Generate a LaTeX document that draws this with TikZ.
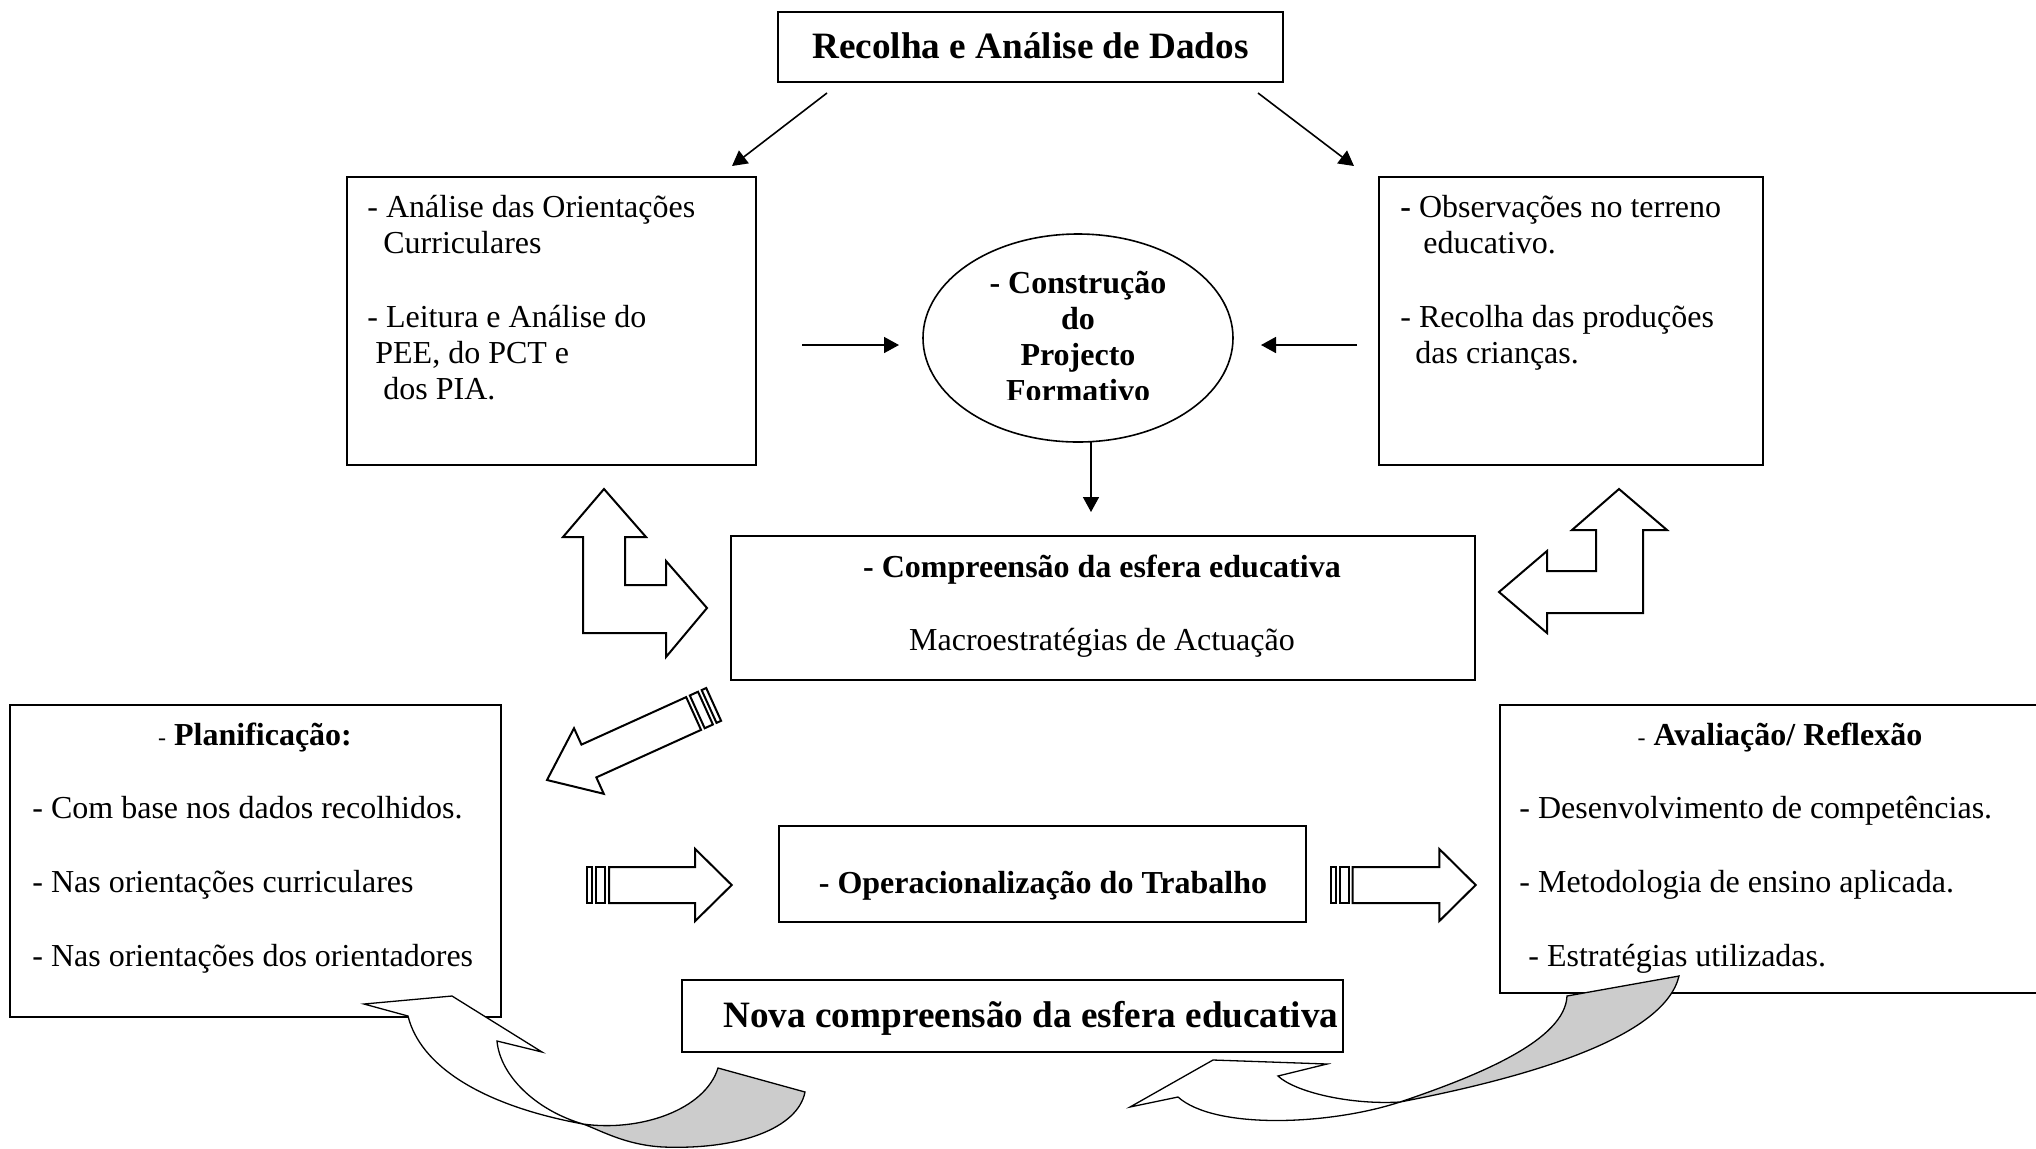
\documentclass[tikz,border=0pt]{standalone}
\usepackage{fontspec}
\setmainfont{Liberation Serif}
\usetikzlibrary{arrows.meta,shapes.geometric,fit}
\newcommand{\stripedarrow}[4]{%
  \begin{scope}[shift={#1},rotate=#2]
    \draw[blockarrow] (0,0) -- (-#3,36) -- (-#3,18) -- (-#3-#4,18) -- (-#3-#4,-18)
      -- (-#3,-18) -- (-#3,-36) -- cycle;
    \draw[blockarrow] (-#3-#4-4,18) rectangle (-#3-#4-13,-18);
    \draw[blockarrow] (-#3-#4-17,18) rectangle (-#3-#4-22,-18);
  \end{scope}}
\begin{document}
\begin{tikzpicture}[x=0.5pt,y=-0.5pt,
  box/.style={draw,line width=1pt,inner sep=0pt},
  txt/.style={inner sep=0pt,anchor=base west,font=\fontsize{16}{18}\selectfont},
  ctxt/.style={inner sep=0pt,anchor=base,font=\fontsize{16}{18}\selectfont},
  btxt/.style={inner sep=0pt,anchor=base,font=\bfseries\fontsize{16}{18}\selectfont},
  bigtxt/.style={inner sep=0pt,anchor=base,font=\bfseries\fontsize{18.6}{21}\selectfont},
  thinarrow/.style={line width=0.8pt,-{Triangle[length=7.5pt,width=8pt]}},
  blockarrow/.style={draw,line width=1pt,fill=white,line join=miter},
  ribbon/.style={draw,line width=0.65pt,fill=white},
  ribbonback/.style={draw,line width=0.65pt,fill=gray!40}]
\useasboundingbox (0,0) rectangle (2036,1148);

% boxes
\node[box,fit={(778,12) (1283,82)}] (title) {};
\node[box,fit={(347,177) (756,465)}] (lbox) {};
\node[box,fit={(1379,177) (1763,465)}] (rbox) {};
\node[box,fit={(731,536) (1475,680)}] (mbox) {};
\node[box,fit={(10,705) (501,1017)}] (plan) {};
\node[box,fit={(779,826) (1306,922)}] (oper) {};
\node[box,fit={(1500,705) (2040,993)}] (aval) {};
\node[box,fit={(682,980) (1343,1052)}] (nova) {};
\node[draw,ellipse,line width=0.8pt,inner sep=0pt,minimum width=155pt,minimum height=104pt] (ell) at (1078,338) {};

% texts
\node[bigtxt] (titletext) at (1030.5,58) {Recolha e Análise de Dados};

\node[txt] (l1) at (367,217) {- Análise das Orientações};
\node[txt] (l2) at (383,253) {Curriculares};
\node[txt] (l3) at (367,327) {- Leitura e Análise do};
\node[txt] (l4) at (375,363) {PEE, do PCT e};
\node[txt] (l5) at (383,399) {dos PIA.};

\node[txt] (r1) at (1400,217) {\textbf{-} Observações no terreno};
\node[txt] (r2) at (1423,253) {educativo.};
\node[txt] (r3) at (1400,327) {- Recolha das produções};
\node[txt] (r4) at (1415,363) {das crianças.};

\begin{scope}
  \clip (900,250) rectangle (1260,399);
  \node[btxt] (e1) at (1078,293) {- Construção};
  \node[btxt] (e2) at (1078,329) {do};
  \node[btxt] (e3) at (1078,365) {Projecto};
  \node[btxt] (e4) at (1078,401) {Formativo};
\end{scope}

\node[btxt] (m1) at (1102,577) {- Compreensão da esfera educativa};
\node[ctxt] (m2) at (1102,650) {Macroestratégias de Actuação};

\node[ctxt] (p0) at (255,745) {{\fontsize{12}{14}\selectfont -} \textbf{Planificação:}};
\node[txt] (p1) at (32,818) {- Com base nos dados recolhidos.};
\node[txt] (p2) at (32,892) {- Nas orientações curriculares};
\node[txt] (p3) at (32,966) {- Nas orientações dos orientadores};

\node[btxt] (o1) at (1043,893) {- Operacionalização do Trabalho};

\node[ctxt] (a0) at (1780,745) {{\fontsize{12}{14}\selectfont -} \textbf{Avaliação/ Reflexão}};
\node[txt] (a1) at (1519,818) {- Desenvolvimento de competências.};
\node[txt] (a2) at (1519,892) {- Metodologia de ensino aplicada.};
\node[txt] (a3) at (1528,966) {- Estratégias utilizadas.};

\node[bigtxt] (n1) at (1031,1027) {Nova compreensão da esfera educativa};

% thin connectors
\coordinate (ta) at (827,93);   \coordinate (tae) at (732,166);
\coordinate (tb) at (1258,93);  \coordinate (tbe) at (1354,166);
\coordinate (la) at (802,345);  \coordinate (lae) at (899,345);
\coordinate (ra) at (1357,345); \coordinate (rae) at (1261,345);
\coordinate (da) at (1091,441); \coordinate (dae) at (1091,512);
\draw[thinarrow] (ta) -- (tae);
\draw[thinarrow] (tb) -- (tbe);
\draw[thinarrow] (la) -- (lae);
\draw[thinarrow] (ra) -- (rae);
\draw[thinarrow] (da) -- (dae);

% L-shaped block arrows
\draw[blockarrow] (604,489) -- (646,537) -- (625,537) -- (625,585) -- (666,585) -- (666,561)
  -- (707,608) -- (666,657) -- (666,633) -- (583,633) -- (583,537) -- (563,537) -- cycle;
\draw[blockarrow] (1619,489) -- (1667,530) -- (1643,530) -- (1643,613) -- (1547,613) -- (1547,633)
  -- (1499,592) -- (1547,551) -- (1547,571) -- (1596,571) -- (1596,530) -- (1572,530) -- cycle;

% striped block arrows
\stripedarrow{(547,780)}{204.4}{46}{115}
\stripedarrow{(731.7,885)}{0}{36.5}{86}
\stripedarrow{(1475.7,885)}{0}{36.4}{86.6}

% curved ribbon arrows
\filldraw[ribbonback] (583,1124) .. controls (640,1132) and (705,1110) .. (718,1068) -- (805,1092)
  .. controls (798,1128) and (740,1150) .. (663,1147) .. controls (625,1145) and (600,1130) .. (583,1124) -- cycle;
\filldraw[ribbon] (364,1004) -- (452,996) -- (542,1052) -- (497,1041)
  .. controls (500,1075) and (535,1110) .. (583,1124)
  .. controls (480,1105) and (420,1065) .. (408,1016) -- cycle;

\filldraw[ribbonback] (1400,1102) .. controls (1480,1075) and (1565,1040) .. (1567,996) -- (1679,976)
  .. controls (1665,1035) and (1540,1075) .. (1400,1102) -- cycle;
\filldraw[ribbon] (1130,1107) -- (1213,1060) -- (1327,1064) -- (1278,1076)
  .. controls (1295,1092) and (1350,1105) .. (1400,1102)
  .. controls (1330,1125) and (1215,1130) .. (1178,1097) -- cycle;
\end{tikzpicture}
\end{document}
